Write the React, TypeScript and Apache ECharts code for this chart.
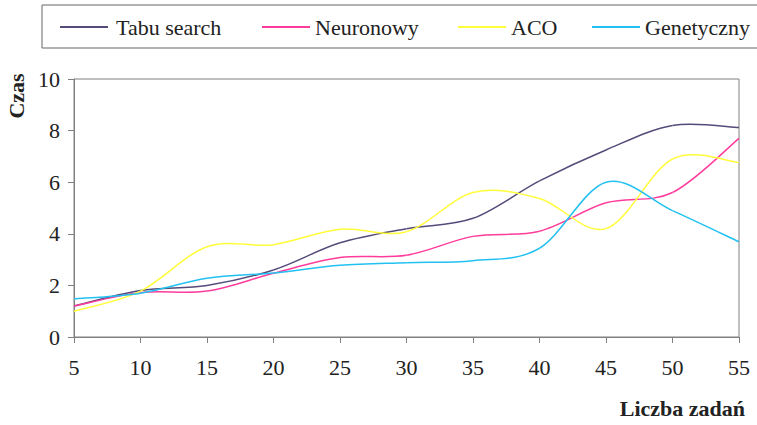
import React, { useEffect, useRef } from "react";
import * as echarts from "echarts";

const xValues = [5, 10, 15, 20, 25, 30, 35, 40, 45, 50, 55];
const tabu = [1.2, 1.8, 2.0, 2.6, 3.65, 4.2, 4.6, 6.05, 7.25, 8.2, 8.12];
const neuronowy = [1.2, 1.72, 1.78, 2.47, 3.08, 3.17, 3.9, 4.1, 5.2, 5.6, 7.7];
const aco = [1.0, 1.78, 3.5, 3.58, 4.18, 4.08, 5.6, 5.37, 4.2, 6.9, 6.76];
const genetyczny = [1.48, 1.7, 2.28, 2.48, 2.78, 2.88, 2.96, 3.44, 6.0, 4.9, 3.69];

const seriesNames = ["Tabu search", "Neuronowy", "ACO", "Genetyczny"];
const seriesData = [tabu, neuronowy, aco, genetyczny];
const seriesColors = ["#564a7a", "#ff3c9c", "#ffff3a", "#22c1f1"];
const legendLefts = [60, 262, 458, 592];

const FONT = "Liberation Serif, Times New Roman, serif";

function makeRenderItem(ys: number[], color: string) {
  return (params: any, api: any) => {
    const i = params.dataIndex;
    const n = ys.length;
    if (i >= n - 1) return null;
    const c = (k: number) => {
      const kk = Math.max(0, Math.min(n - 1, k));
      return api.coord([xValues[kk], ys[kk]]);
    };
    const p0 = c(i - 1);
    const p1 = c(i);
    const p2 = c(i + 1);
    const p3 = c(i + 2);
    const cp1x = p1[0] + (p2[0] - p0[0]) / 6;
    const cp1y = p1[1] + (p2[1] - p0[1]) / 6;
    const cp2x = p2[0] - (p3[0] - p1[0]) / 6;
    const cp2y = p2[1] - (p3[1] - p1[1]) / 6;
    return {
      type: "path",
      shape: {
        pathData: `M${p1[0]},${p1[1]} C${cp1x},${cp1y} ${cp2x},${cp2y} ${p2[0]},${p2[1]}`,
      },
      style: { stroke: color, fill: "none", lineWidth: 1.5 },
    };
  };
}

export default function App() {
  const ref = useRef<HTMLDivElement>(null);
  useEffect(() => {
    document.body.style.margin = "0";
    if (!ref.current) return;
    const chart = echarts.init(ref.current, undefined, { renderer: "svg" });
    const option = {
      animation: false,
      backgroundColor: "#ffffff",
      grid: {
        show: true,
        left: 74,
        right: 18,
        top: 79,
        bottom: 88,
        borderColor: "#808080",
        borderWidth: 1,
        backgroundColor: "transparent",
      },
      legend: seriesNames.map((n, i) => ({
        data: [{ name: n, itemStyle: { color: seriesColors[i] } }],
        left: legendLefts[i],
        top: 16,
        padding: 0,
        icon: "rect",
        itemWidth: 48,
        itemHeight: 2,
        itemGap: 5,
        textStyle: {
          fontFamily: FONT,
          fontSize: 22,
          color: "#222",
          padding: i === 0 ? [0, 0, 0, 3] : 0,
        },
      })),
      xAxis: {
        type: "value",
        min: 5,
        max: 55,
        interval: 5,
        axisLine: { show: true, lineStyle: { color: "#808080", width: 1 } },
        axisTick: { show: true, length: 6, lineStyle: { color: "#808080" } },
        splitLine: { show: false },
        axisLabel: { fontFamily: FONT, fontSize: 22, color: "#222", margin: 19 },
      },
      yAxis: {
        type: "value",
        min: 0,
        max: 10,
        interval: 2,
        axisLine: { show: true, lineStyle: { color: "#808080", width: 1 } },
        axisTick: { show: true, length: 6, lineStyle: { color: "#808080" } },
        splitLine: { show: false },
        axisLabel: { fontFamily: FONT, fontSize: 22, color: "#222", margin: 14 },
      },
      graphic: [
        {
          type: "rect",
          shape: { x: 42, y: 5, width: 800, height: 43 },
          style: { fill: "none", stroke: "#666", lineWidth: 1 },
          silent: true,
        },
        {
          type: "text",
          x: 16,
          y: 96,
          rotation: Math.PI / 2,
          style: {
            text: "Czas",
            font: `bold 22px ${FONT}`,
            fill: "#222",
            align: "center",
            verticalAlign: "middle",
          },
        },
        {
          type: "text",
          x: 745,
          y: 408,
          style: {
            text: "Liczba zadań",
            font: `bold 22px ${FONT}`,
            fill: "#222",
            align: "right",
            verticalAlign: "middle",
          },
        },
      ],
      series: seriesNames.map((n, i) => ({
        name: n,
        type: "custom",
        coordinateSystem: "cartesian2d",
        encode: { x: 0, y: 1 },
        data: xValues.map((x, j) => [x, seriesData[i][j]]),
        itemStyle: { color: seriesColors[i] },
        renderItem: makeRenderItem(seriesData[i], seriesColors[i]),
      })),
    };
    chart.setOption(option);
    return () => chart.dispose();
  }, []);
  return <div ref={ref} style={{ width: 757, height: 425 }} />;
}
